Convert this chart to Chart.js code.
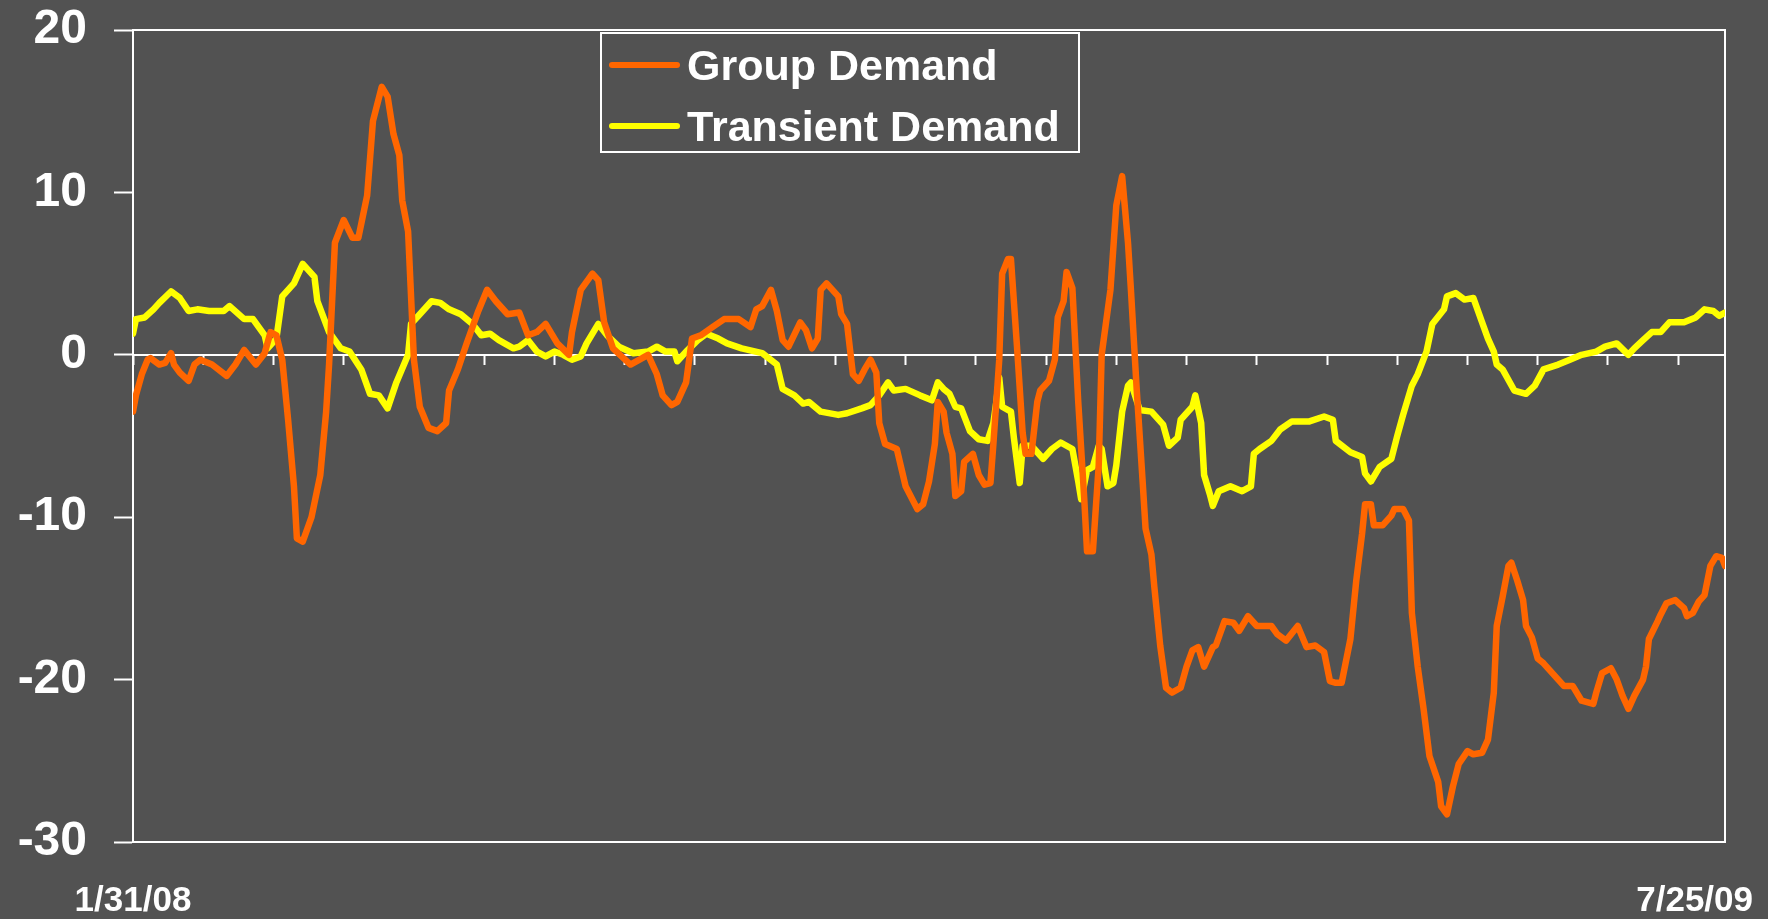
<!DOCTYPE html>
<html>
<head>
<meta charset="utf-8">
<title>Group vs Transient Demand</title>
<script src="https://cdn.jsdelivr.net/npm/chart.js@4.4.1/dist/chart.umd.min.js"></script>
<style>
  html, body { margin: 0; padding: 0; background: #525252; }
  #demandChart { display: block; }
</style>
</head>
<body>
<canvas id="demandChart" width="1768" height="919"></canvas>
<script>
// Days after 1/31/08 and the values
const groupDays = [0,1,3,5,6,9,11,13,14,16,19,21,23,27,32,35,38,42,45,47,49,51,53,55,56,58,61,64,66,67,69,72,75,77,80,82,85,87,89,91,92,94,96,98,101,104,107,108,111,114,118,121,124,128,132,135,138,141,145,149,150,153,157,159,161,164,170,176,179,181,184,186,189,191,194,198,202,207,211,213,215,218,220,222,224,228,230,232,234,235,237,241,242,244,246,248,250,252,254,255,257,261,264,268,270,272,274,275,277,278,280,281,283,284,287,289,291,293,294,296,297,299,300,302,304,305,307,309,310,313,315,316,318,319,321,323,325,326,328,330,331,334,336,338,340,341,343,345,346,348,349,351,353,355,358,360,362,364,366,369,370,373,376,378,381,384,389,391,394,398,401,404,407,409,411,413,416,418,420,421,423,424,427,430,431,434,436,437,439,441,443,446,447,449,451,453,456,458,461,463,465,466,468,470,471,473,475,476,478,480,482,485,487,489,492,495,499,500,502,505,507,509,511,513,516,517,518,521,522,524,527,530,531,533,535,537,539,541,543,544];
const groupValues = [-3.5,-2.5,-1.2,-0.3,-0.2,-0.6,-0.5,0.1,-0.6,-1.1,-1.6,-0.6,-0.3,-0.6,-1.3,-0.6,0.3,-0.6,0.1,1.4,1.2,-0.3,-4.0,-8.1,-11.3,-11.5,-10.0,-7.4,-3.5,-0.6,6.9,8.3,7.2,7.2,9.8,14.4,16.5,15.9,13.6,12.3,9.5,7.6,-0.3,-3.2,-4.5,-4.7,-4.2,-2.2,-0.9,0.7,2.7,4.0,3.3,2.5,2.6,1.2,1.4,1.9,0.7,0,1.4,4.0,5.0,4.6,2.0,0.4,-0.6,0,-1.2,-2.5,-3.1,-2.9,-1.7,1.0,1.2,1.7,2.2,2.2,1.7,2.8,3.0,4.0,2.7,0.9,0.5,2.0,1.5,0.4,1.0,4.0,4.4,3.6,2.5,1.9,-1.2,-1.6,-0.9,-0.3,-1.1,-4.2,-5.5,-5.8,-8.1,-9.5,-9.2,-7.8,-5.5,-2.9,-3.5,-4.8,-6.1,-8.7,-8.4,-6.6,-6.1,-7.4,-8.0,-7.9,-5.5,-0.3,5.0,5.9,5.9,0.7,-4.8,-6.1,-6.1,-2.9,-2.2,-1.6,-0.3,2.3,3.3,5.1,4.1,-2.9,-8.7,-12.1,-12.1,-6.8,0,4.0,9.2,11.0,6.9,4.0,-2.2,-7.8,-10.7,-12.3,-14.3,-17.9,-20.5,-20.8,-20.5,-19.2,-18.2,-18.0,-19.2,-18.0,-17.9,-16.4,-16.5,-17.0,-16.1,-16.7,-16.7,-17.2,-17.6,-16.7,-18.0,-17.9,-18.3,-20.1,-20.2,-20.2,-17.5,-13.9,-11.0,-9.2,-9.2,-10.5,-10.5,-9.9,-9.5,-9.5,-10.2,-15.9,-19.2,-21.8,-24.7,-26.3,-27.8,-28.3,-26.6,-25.2,-24.4,-24.6,-24.5,-23.7,-20.8,-16.7,-14.9,-13.0,-12.8,-13.9,-15.1,-16.7,-17.4,-18.7,-19.0,-19.6,-20.0,-20.4,-20.4,-21.3,-21.5,-20.8,-19.6,-19.3,-20.0,-21.0,-21.8,-21.0,-20.0,-19.2,-17.5,-16.4,-16.0,-15.3,-15.1,-15.6,-16.1,-15.9,-15.2,-14.8,-13.0,-12.4,-12.5,-13.0];

const transientDays = [0,1,4,7,9,13,16,19,22,26,31,33,38,41,45,46,49,51,55,58,62,63,67,71,74,78,81,84,87,90,94,95,98,102,105,108,112,116,119,122,125,130,132,135,138,141,144,147,150,153,155,159,162,166,171,176,179,182,185,186,189,193,196,200,203,208,215,220,222,226,229,231,235,241,244,249,252,255,258,260,264,269,273,275,277,279,281,283,286,289,292,294,295,296,297,300,301,303,304,307,311,314,317,321,323,324,326,328,330,331,333,335,336,338,340,341,344,348,352,354,357,358,362,363,365,366,368,369,371,375,379,382,383,385,389,392,396,402,407,410,411,416,420,421,423,426,430,432,434,437,439,442,444,448,449,452,455,458,461,463,465,466,468,472,476,479,482,487,491,495,500,503,507,511,513,516,519,522,525,530,534,537,540,542,544];
const transientValues = [1.3,2.2,2.3,2.8,3.2,3.9,3.5,2.7,2.8,2.7,2.7,3.0,2.2,2.2,1.2,0.4,1.0,3.6,4.4,5.6,4.8,3.3,1.4,0.4,0.2,-0.9,-2.4,-2.5,-3.3,-1.7,0,1.9,2.5,3.3,3.2,2.8,2.5,1.9,1.2,1.3,0.9,0.4,0.5,0.9,0.2,-0.1,0.2,0,-0.3,-0.1,0.7,1.9,1.2,0.5,0.1,0.2,0.5,0.2,0.2,-0.4,0.2,0.9,1.3,1.0,0.7,0.4,0.1,-0.6,-2.1,-2.5,-3.0,-2.9,-3.5,-3.7,-3.6,-3.3,-3.1,-2.5,-1.7,-2.2,-2.1,-2.5,-2.8,-1.7,-2.1,-2.4,-3.2,-3.3,-4.7,-5.2,-5.3,-4.2,-2.9,-1.4,-3.2,-3.5,-5.1,-7.9,-5.6,-5.6,-6.4,-5.8,-5.4,-5.8,-7.8,-8.9,-7.1,-6.9,-5.6,-5.8,-8.1,-7.9,-6.8,-3.5,-1.9,-1.7,-3.4,-3.5,-4.3,-5.6,-5.1,-4.0,-3.2,-2.5,-4.2,-7.4,-8.6,-9.3,-8.4,-8.1,-8.4,-8.1,-6.1,-5.8,-5.3,-4.6,-4.1,-4.1,-3.8,-4.0,-5.3,-6.0,-6.3,-7.3,-7.8,-6.9,-6.4,-5.0,-3.7,-1.9,-1.2,0.2,1.9,2.8,3.6,3.8,3.4,3.5,2.0,1.0,0.2,-0.6,-0.9,-2.2,-2.4,-1.9,-0.9,-0.6,-0.3,0,0.2,0.5,0.7,0,0.4,0.9,1.4,1.4,2.0,2.0,2.3,2.8,2.7,2.4,2.6];

const seriesNames = ['Group Demand', 'Transient Demand'];
const seriesColors = ['#ff6600', '#ffff00'];
const yTickValues = [-30, -20, -10, 0, 10, 20];
const dateLabels = ['1/31/08', '7/25/09'];
const tickEveryDays = 24;

const bg = '#525252';
const fontFamily = '"Liberation Sans", Arial, sans-serif';

Chart.defaults.font.family = fontFamily;
Chart.defaults.color = '#ffffff';

const toPoints = (days, values) => days.map((d, i) => ({ x: d, y: values[i] }));

// background, plot frame, end dates and boxed legend
const framePlugin = {
    id: 'frame',
    beforeDraw(chart) {
        const ctx = chart.ctx;
        ctx.save();
        ctx.fillStyle = bg;
        ctx.fillRect(0, 0, chart.width, chart.height);
        ctx.restore();
    },
    beforeDatasetsDraw(chart) {
        const { ctx, chartArea: a } = chart;
        ctx.save();
        ctx.strokeStyle = '#ffffff';
        ctx.lineWidth = 2;
        ctx.strokeRect(a.left, a.top, a.right - a.left, a.bottom - a.top);
        ctx.restore();
    },
    afterDraw(chart) {
        const { ctx, chartArea: a } = chart;
        const xs = chart.scales.x;
        ctx.save();
        ctx.fillStyle = '#ffffff';

        // first and last date under the plot
        ctx.font = 'bold 35px ' + fontFamily;
        ctx.textAlign = 'center';
        ctx.textBaseline = 'middle';
        [xs.min, xs.max].forEach((v, i) => {
            const w = ctx.measureText(dateLabels[i]).width;
            let px = xs.getPixelForValue(v);
            px = Math.min(Math.max(px, w / 2 + 4), chart.width - w / 2 - 15);
            ctx.fillText(dateLabels[i], px, a.bottom + 59);
        });

        // legend box
        const box = { left: 601, top: 33, width: 478, height: 119 };
        ctx.fillStyle = bg;
        ctx.fillRect(box.left, box.top, box.width, box.height);
        ctx.strokeStyle = '#ffffff';
        ctx.lineWidth = 2;
        ctx.strokeRect(box.left, box.top, box.width, box.height);

        ctx.font = 'bold 43px ' + fontFamily;
        ctx.textAlign = 'left';
        ctx.textBaseline = 'alphabetic';
        chart.data.datasets.forEach((ds, i) => {
            const y = box.top + 32 + i * 61;
            ctx.strokeStyle = ds.borderColor;
            ctx.lineWidth = 6;
            ctx.lineCap = 'round';
            ctx.beginPath();
            ctx.moveTo(box.left + 11, y);
            ctx.lineTo(box.left + 76, y);
            ctx.stroke();
            ctx.fillStyle = '#ffffff';
            ctx.fillText(ds.label, box.left + 86, y + 15);
        });
        ctx.restore();
    }
};

const demandChart = new Chart(document.getElementById('demandChart'), {
    type: 'line',
    data: {
        datasets: [{
            label: seriesNames[0],
            data: toPoints(groupDays, groupValues),
            borderColor: seriesColors[0],
            borderWidth: 6.5,
            pointRadius: 0,
            tension: 0,
            borderCapStyle: 'round',
            borderJoinStyle: 'round'
        }, {
            label: seriesNames[1],
            data: toPoints(transientDays, transientValues),
            borderColor: seriesColors[1],
            borderWidth: 6.5,
            pointRadius: 0,
            tension: 0,
            borderCapStyle: 'round',
            borderJoinStyle: 'round'
        }]
    },
    options: {
        responsive: false,
        animation: false,
        devicePixelRatio: 1,
        layout: {
            padding: { top: 30, right: 43, bottom: 77, left: 0 }
        },
        plugins: {
            legend: { display: false },
            tooltip: { enabled: false }
        },
        scales: {
            x: {
                type: 'linear',
                min: groupDays[0],
                max: groupDays[groupDays.length - 1],
                position: { y: 0 },
                ticks: { display: false, stepSize: tickEveryDays, includeBounds: false },
                grid: {
                    drawOnChartArea: false,
                    drawTicks: true,
                    tickLength: 9,
                    tickColor: '#ffffff',
                    tickWidth: 2
                },
                border: { display: true, color: '#ffffff', width: 2 }
            },
            y: {
                type: 'linear',
                min: yTickValues[0],
                max: yTickValues[yTickValues.length - 1],
                afterBuildTicks(scale) {
                    scale.ticks = yTickValues.map(v => ({ value: v }));
                },
                afterFit(scale) {
                    scale.width = 133;
                    scale.paddingTop = 0;
                    scale.paddingBottom = 0;
                },
                ticks: {
                    color: '#ffffff',
                    padding: 27,
                    font: { size: 48, weight: 'bold' }
                },
                grid: {
                    drawOnChartArea: false,
                    drawTicks: true,
                    tickLength: 19,
                    tickColor: '#ffffff',
                    tickWidth: 2
                },
                border: { display: true, color: '#ffffff', width: 2 }
            }
        }
    },
    plugins: [framePlugin]
});
</script>
</body>
</html>
